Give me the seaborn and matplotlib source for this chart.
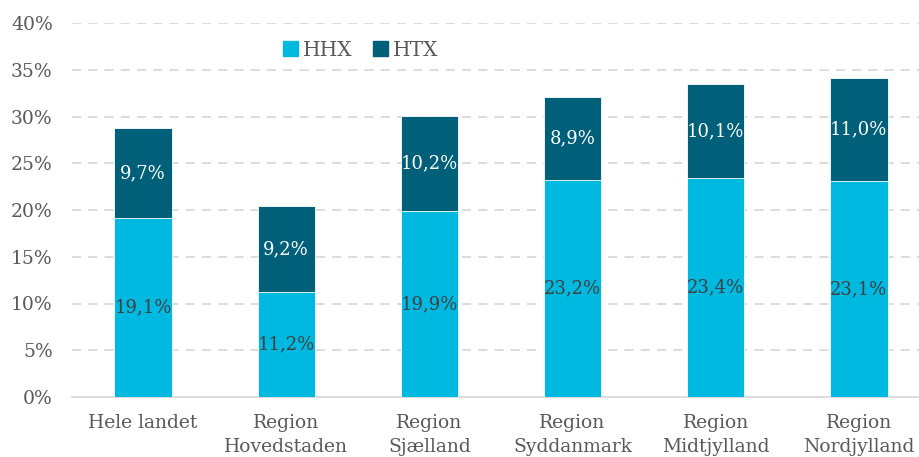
import matplotlib
matplotlib.use("Agg")
import matplotlib.pyplot as plt
import seaborn as sns
import pandas as pd
from matplotlib.patches import Patch
from matplotlib.ticker import FuncFormatter

categories = ["Hele landet", "Region\nHovedstaden", "Region\nSjælland",
              "Region\nSyddanmark", "Region\nMidtjylland", "Region\nNordjylland"]
hhx = [19.1, 11.2, 19.9, 23.2, 23.4, 23.1]
htx = [9.7, 9.2, 10.2, 8.9, 10.1, 11.0]
yticks = [0, 5, 10, 15, 20, 25, 30, 35, 40]

C_HHX = "#00B9E1"
C_HTX = "#005F79"
TXT = "#595959"

sns.set_theme(style="white")
plt.rcParams["font.family"] = ["DejaVu Serif"]

df = pd.DataFrame({"cat": categories, "HHX": hhx, "HTX": htx})
df["total"] = df["HHX"] + df["HTX"]

fig = plt.figure(figsize=(9.19, 4.57), dpi=100)
ax = fig.add_axes([71.5 / 919, 60 / 457, 859 / 919, 374 / 457])

sns.barplot(data=df, x="cat", y="total", color=C_HTX, width=0.4, ax=ax,
            saturation=1, edgecolor="white", linewidth=0.6, zorder=3)
sns.barplot(data=df, x="cat", y="HHX", color=C_HHX, width=0.4, ax=ax,
            saturation=1, edgecolor="white", linewidth=0.6, zorder=3)

fmt = lambda v: f"{v:.1f}".replace(".", ",") + "%"
for i, (a, b) in enumerate(zip(hhx, htx)):
    ax.text(i, a / 2, fmt(a), ha="center", va="center", color="#404040",
            fontsize=13, zorder=5)
    ax.text(i, a + b / 2, fmt(b), ha="center", va="center", color="white",
            fontsize=13, zorder=5)

ax.set_ylim(0, 40)
ax.set_xlim(-0.5, 5.5)
ax.set_yticks(yticks)
ax.yaxis.set_major_formatter(FuncFormatter(lambda v, p: f"{int(v)}%"))
ax.set_xlabel("")
ax.set_ylabel("")
for t in yticks[1:]:
    ax.axhline(t, color="#D9D9D9", linestyle=(0, (5, 4)), linewidth=1.3, zorder=1)
for s in ["top", "right", "left"]:
    ax.spines[s].set_visible(False)
ax.spines["bottom"].set_color("#D9D9D9")
ax.spines["bottom"].set_linewidth(1.3)
ax.tick_params(axis="y", length=0, pad=13.5, labelsize=13.5, labelcolor=TXT)
ax.tick_params(axis="x", length=0, pad=12, labelsize=13.5, labelcolor=TXT)
for lab in ax.get_xticklabels():
    lab.set_linespacing(1.45)

handles = [Patch(color=C_HHX, label="HHX"), Patch(color=C_HTX, label="HTX")]
ax.legend(handles=handles, loc="center",
          bbox_to_anchor=((361 - 71.5) / 859, (397 - 50) / 374),
          ncol=2, frameon=False, fontsize=14.5, handlelength=0.75, handleheight=0.75,
          handletextpad=0.25, columnspacing=1.0, labelcolor=TXT)

fig.savefig("out.png", dpi=100, facecolor="white")
